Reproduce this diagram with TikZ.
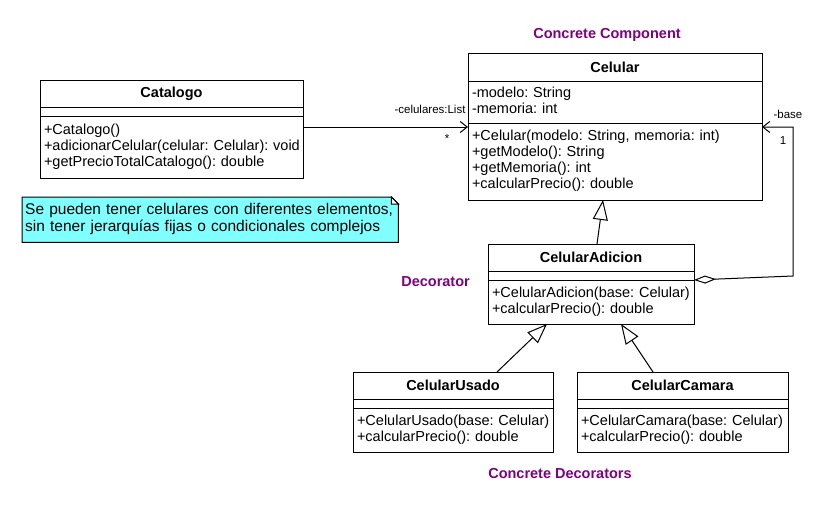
\documentclass[tikz,border=0pt]{standalone}
\usepackage{fontspec}
\setmainfont{Liberation Sans}
\usetikzlibrary{positioning,arrows.meta,backgrounds}
\definecolor{stereopurple}{RGB}{128,0,128}
\definecolor{notecyan}{RGB}{128,255,255}
\newcommand{\umlfont}{\fontsize{14.5}{16}\selectfont}
\newcommand{\rolefont}{\fontsize{11.5}{13}\selectfont}
\newcommand{\notefont}{\fontsize{15.5}{17}\selectfont}
\newcommand{\umlrows}[1]{\begin{tabular}{@{}l@{}}#1\end{tabular}}
\frenchspacing

\tikzset{
  umlpart/.style={draw, line width=1pt, outer sep=0pt, inner xsep=4pt, inner ysep=2pt, align=left, font=\umlfont},
  umltitle/.style={umlpart, align=center, font=\umlfont\bfseries},
  umlempty/.style={draw, line width=1pt, outer sep=0pt, inner sep=0pt, minimum height=9pt},
  stereo/.style={inner sep=0pt, text=stereopurple, font=\umlfont\bfseries},
  role/.style={inner sep=0pt, font=\rolefont},
  assoc/.style={line width=1pt, -{Straight Barb[length=7pt,width=11pt]}},
  inherit/.style={line width=1pt, -{Triangle[open,length=20pt,width=15pt]}},
  aggr/.style={line width=1pt, {Diamond[open,length=22pt,width=8pt]}-{Straight Barb[length=7pt,width=11pt]}},
}

\begin{document}
\begin{tikzpicture}[x=1pt,y=-1pt]
  \useasboundingbox (0,0) rectangle (822,507);

  % Catalogo
  \node[umltitle, text width=255pt, minimum height=27pt, anchor=north west] (catalogo-t) at (40,80) {Catalogo};
  \node[umlempty, minimum width=263pt, below=0pt of catalogo-t] (catalogo-a) {};
  \node[umlpart, text width=255pt, minimum height=62pt, below=0pt of catalogo-a] (catalogo-m)
    {\umlrows{+Catalogo()\\+adicionarCelular(celular: Celular): void\\+getPrecioTotalCatalogo(): double}};

  % Celular
  \node[umltitle, text width=286pt, minimum height=28pt, anchor=north west] (celular-t) at (468,53) {Celular};
  \node[umlpart, text width=286pt, minimum height=42pt, below=0pt of celular-t] (celular-a)
    {\umlrows{-modelo: String\\-memoria: int}};
  \node[umlpart, text width=286pt, minimum height=77pt, below=0pt of celular-a] (celular-m)
    {\umlrows{+Celular(modelo: String, memoria: int)\\+getModelo(): String\\+getMemoria(): int\\+calcularPrecio(): double}};

  % CelularAdicion
  \node[umltitle, text width=198pt, minimum height=27pt, anchor=north west] (adicion-t) at (488,244) {CelularAdicion};
  \node[umlempty, minimum width=206pt, below=0pt of adicion-t] (adicion-a) {};
  \node[umlpart, text width=198pt, minimum height=44pt, below=0pt of adicion-a] (adicion-m)
    {\umlrows{+CelularAdicion(base: Celular)\\+calcularPrecio(): double}};

  % CelularUsado
  \node[umltitle, text width=192pt, minimum height=27pt, anchor=north west] (usado-t) at (353,372) {CelularUsado};
  \node[umlempty, minimum width=200pt, below=0pt of usado-t] (usado-a) {};
  \node[umlpart, text width=192pt, minimum height=44pt, below=0pt of usado-a] (usado-m)
    {\umlrows{+CelularUsado(base: Celular)\\+calcularPrecio(): double}};

  % CelularCamara
  \node[umltitle, text width=203pt, minimum height=27pt, anchor=north west] (camara-t) at (577,372) {CelularCamara};
  \node[umlempty, minimum width=211pt, below=0pt of camara-t] (camara-a) {};
  \node[umlpart, text width=203pt, minimum height=44pt, below=0pt of camara-a] (camara-m)
    {\umlrows{+CelularCamara(base: Celular)\\+calcularPrecio(): double}};

  % note
  \node[inner xsep=3pt, inner ysep=0pt, text width=370pt, minimum height=45pt, align=left, font=\notefont, anchor=north west] (nota) at (22,197)
    {\begin{tabular}{@{}l@{}}Se pueden tener celulares con diferentes elementos,\\sin tener jerarquías fijas o condicionales complejos\end{tabular}};
  \begin{scope}[on background layer]
    \filldraw[fill=notecyan, line width=1pt] (nota.north west) -- ([xshift=-7pt]nota.north east) -- ([yshift=-7pt]nota.north east)
      -- (nota.south east) -- (nota.south west) -- cycle;
    \filldraw[fill=white, line width=1pt] ([xshift=-7pt]nota.north east) |- ([yshift=-7pt]nota.north east) -- cycle;
  \end{scope}

  % stereotype labels
  \node[stereo, above=11pt of celular-t, xshift=-8pt] (lbl-component) {Concrete Component};
  \node[stereo, left=18pt of adicion-a.south west, yshift=-2pt] (lbl-decorator) {Decorator};
  \node[stereo] (lbl-concretos) at (560,473) {Concrete Decorators};

  % connectors
  \draw[assoc] ([yshift=-11pt]catalogo-m.north east) -- ([yshift=-4pt]celular-m.north west)
    node[role, pos=1, anchor=east, xshift=-2pt, yshift=18pt] {-celulares:List}
    node[role, pos=1, xshift=-21pt, yshift=-12pt] {*};

  \coordinate (baseknee) at (793,276);
  \draw[aggr] (adicion-a.south east) -- (baseknee) |- ([yshift=-4pt]celular-m.north east)
    node[role, pos=1, xshift=26pt, yshift=13pt] {-base}
    node[role, pos=1, xshift=21pt, yshift=-14pt] {1};

  \draw[inherit] ([xshift=6pt]adicion-t.north) -- ([xshift=-12pt]celular-m.south);
  \draw[inherit] ([xshift=44pt]usado-t.north) -- ([xshift=-44pt]adicion-m.south);
  \draw[inherit] ([xshift=-29.5pt]camara-t.north) -- ([xshift=30pt]adicion-m.south);
\end{tikzpicture}
\end{document}
